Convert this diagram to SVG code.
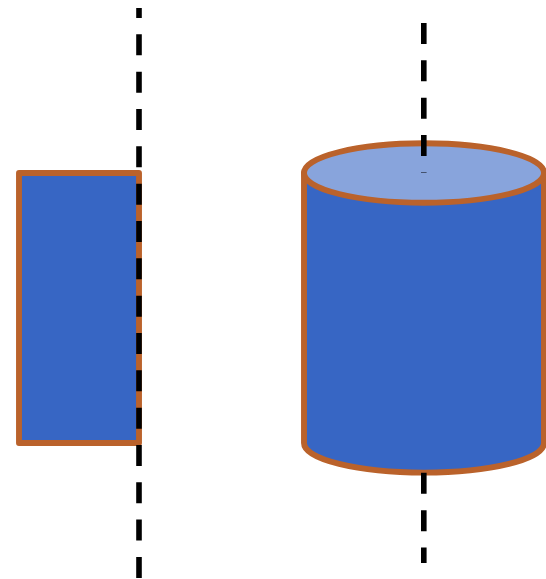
<svg xmlns="http://www.w3.org/2000/svg" width="546" height="579" viewBox="0 0 546 579">
<style>
.shape{fill:#3766C4;stroke:#BA622B;stroke-width:5.9;stroke-linejoin:round}
.top{fill:#88A4DC}
.axis{fill:none;stroke:#000;stroke-width:5.6;stroke-dasharray:21 16.33}
</style>
<rect width="546" height="579" fill="#fff"/>
<g id="rectangle">
<rect class="shape" x="19" y="173" width="120" height="270"/>
</g>
<g id="cylinder">
<path class="shape" d="M304 173V443C304 459.3 357.7 472.6 424 472.6S544 459.3 544 443V173Z"/>
<ellipse class="shape top" cx="424" cy="173" rx="120" ry="29.7"/>
</g>
<g id="connectors">
<path class="axis" stroke-dashoffset="11" d="M139 8V578"/>
<path class="axis" d="M423.8 23V172.8"/>
<path class="axis" d="M423.8 472.8V563"/>
</g>
</svg>
